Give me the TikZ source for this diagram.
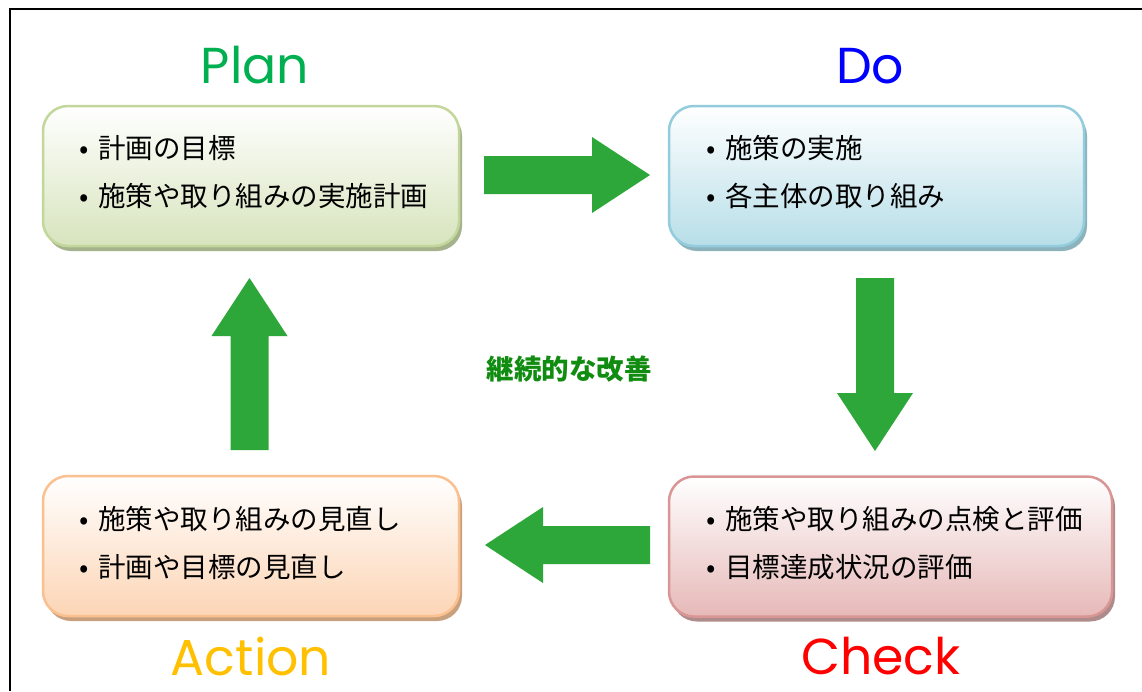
\documentclass[tikz,border=0pt]{standalone}
\usepackage{fontspec}
\setmainfont{Noto Sans CJK JP}
\newfontfamily\titlefont{Poppins}
\usetikzlibrary{calc}
\definecolor{agreen}{RGB}{45,167,58}
\definecolor{planc}{RGB}{0,176,80}
\definecolor{doc}{RGB}{0,0,255}
\definecolor{actc}{RGB}{255,192,0}
\definecolor{chkc}{RGB}{255,0,0}
\definecolor{midc}{RGB}{16,140,16}
\definecolor{planbd}{RGB}{195,214,155}
\definecolor{planbg}{RGB}{215,228,189}
\definecolor{plansh}{RGB}{165,178,140}
\definecolor{dobd}{RGB}{147,205,221}
\definecolor{dobg}{RGB}{183,222,232}
\definecolor{dosh}{RGB}{140,178,188}
\definecolor{actbd}{RGB}{250,192,144}
\definecolor{actbg}{RGB}{252,213,181}
\definecolor{actsh}{RGB}{200,160,125}
\definecolor{chkbd}{RGB}{217,150,148}
\definecolor{chkbg}{RGB}{230,185,184}
\definecolor{chksh}{RGB}{175,140,140}
\tikzset{
  pbox/.style n args={3}{draw=#1, line width=2.5pt, rounded corners=25pt,
    top color=white, bottom color=#2,
    preaction={fill=#3, transform canvas={shift={(3pt,-5pt)}}},
    minimum height=140pt, inner sep=0pt},
  btxt/.style={anchor=west, align=left, inner sep=0pt,
    font=\fontsize{27.5}{48}\selectfont},
  ttl/.style={anchor=base, inner sep=0pt, text depth=0pt, font=\titlefont\fontsize{50.5}{56}\selectfont},
}
\newcommand\bl{\makebox[28pt][c]{•}}
\newcommand\blockarrow[2]{%
  \fill[agreen] ($(#1)!19pt!90:(#2)$) -- ($($(#2)!58pt!(#1)$)!19pt!90:(#2)$)
    -- ($($(#2)!58pt!(#1)$)!38pt!90:(#2)$) -- (#2)
    -- ($($(#2)!58pt!(#1)$)!38pt!-90:(#2)$)
    -- ($($(#2)!58pt!(#1)$)!19pt!-90:(#2)$)
    -- ($(#1)!19pt!-90:(#2)$) -- cycle;}
\begin{document}
\begin{tikzpicture}[x=1pt,y=-1pt]
\useasboundingbox (0,0) rectangle (1142,691);
\fill[white] (0,0) rectangle (1142,691);
\draw[line width=2pt] (10,691) -- (10,9) -- (1142,9);
% boxes
\node[pbox={planbd}{planbg}{plansh}, minimum width=416pt] (plan) at (251,176) {};
\node[pbox={dobd}{dobg}{dosh}, minimum width=415pt] (do) at (876.5,176) {};
\node[pbox={actbd}{actbg}{actsh}, minimum width=416pt] (act) at (251,546) {};
\node[pbox={chkbd}{chkbg}{chksh}, minimum width=443pt] (chk) at (890.5,546.5) {};
% texts
\node[btxt] (plant) at (70,172) {\bl 計画の目標\\\bl 施策や取り組みの実施計画};
\node[btxt] (dot) at (697,172) {\bl 施策の実施\\\bl 各主体の取り組み};
\node[btxt] (actt) at (70,543) {\bl 施策や取り組みの見直し\\\bl 計画や目標の見直し};
\node[btxt] (chkt) at (697,543) {\bl 施策や取り組みの点検と評価\\\bl 目標達成状況の評価};
% titles
\node[ttl, text=planc] (plantl) at (255,83) {Plan};
\node[ttl, text=doc] (dotl) at (870,83) {Do};
\node[ttl, text=actc] (acttl) at (251,675) {Action};
\node[ttl, text=chkc] (chktl) at (881,674) {Check};
% middle
\node[inner sep=0pt, text=midc, font=\bfseries\fontsize{27.5}{30}\selectfont] (mid) at (569,369) {継続的な改善};
% arrows
\coordinate (r1) at (484,175); \coordinate (r2) at (650,175);
\coordinate (d1) at (875,278); \coordinate (d2) at (875,451);
\coordinate (l1) at (650,545); \coordinate (l2) at (485,545);
\coordinate (u1) at (249.5,450); \coordinate (u2) at (249.5,278);
\blockarrow{r1}{r2}
\blockarrow{d1}{d2}
\blockarrow{l1}{l2}
\blockarrow{u1}{u2}
\end{tikzpicture}
\end{document}
